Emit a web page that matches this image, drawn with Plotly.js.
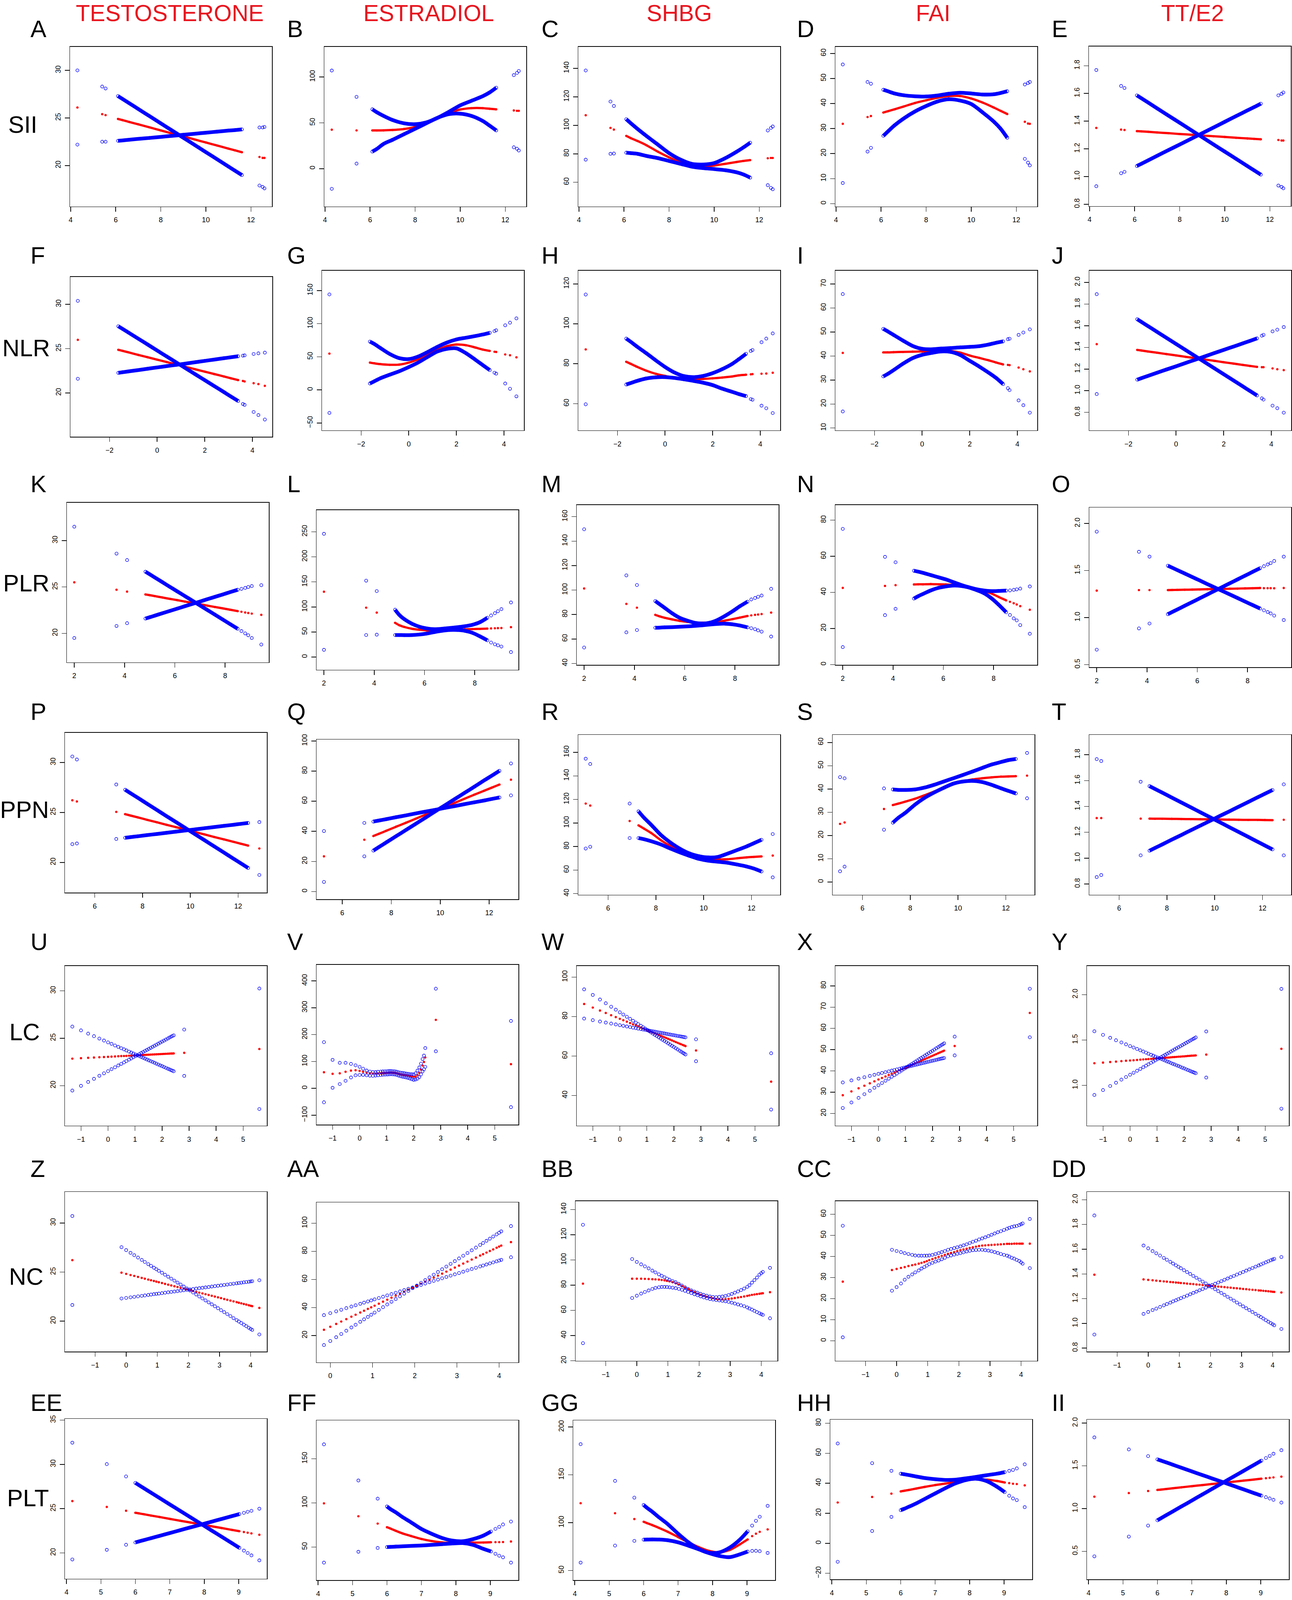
<!DOCTYPE html>
<html><head><meta charset="utf-8">
<script src="https://cdn.plot.ly/plotly-3.0.1.min.js"></script>
<style>html,body{margin:0;padding:0;background:#fff;overflow:hidden}#chart{width:100vw;height:100vh}</style>
</head><body><div id="chart"></div>
<script>
// ---------------- DATA ----------------
const colTitles = ['TESTOSTERONE', 'ESTRADIOL', 'SHBG', 'FAI', 'TT/E2'];
const rowTitles = ['SII', 'NLR', 'PLR', 'PPN', 'LC', 'NC', 'PLT'];
const panelLetters = ['A','B','C','D','E','F','G','H','I','J','K','L','M','N','O','P','Q','R','S','T','U','V','W','X','Y','Z','AA','BB','CC','DD','EE','FF','GG','HH','II'];

const x_SII = [4.3, 5.4, 5.55, 6.1, 6.3, 6.6, 7.0, 7.5, 8.0, 8.5, 9.0, 9.5, 10.0, 10.5, 11.0, 11.3, 11.6, 12.38, 12.52, 12.6];
const x_NLR = [-3.33, -1.63, -1.45, -1.2, -0.8, -0.4, 0, 0.4, 0.8, 1.2, 1.6, 2.0, 2.4, 2.8, 3.1, 3.4, 3.6, 3.67, 4.05, 4.25, 4.52];
const x_PLR = [2.0, 3.68, 4.1, 4.83, 5.0, 5.2, 5.5, 5.8, 6.1, 6.4, 6.7, 7.0, 7.3, 7.6, 7.9, 8.2, 8.5, 8.65, 8.8, 8.92, 9.06, 9.44];
const x_PPN = [5.06, 5.25, 6.9, 7.27, 7.5, 7.8, 8.2, 8.6, 9.0, 9.4, 9.8, 10.2, 10.6, 11.0, 11.4, 11.8, 12.1, 12.42, 12.89];
const x_LC = [-1.32, -1.0, -0.735, -0.52, -0.32, -0.15, 0.0, 0.13, 0.26, 0.38, 0.49, 0.59, 0.68, 0.78, 0.86, 0.94, 1.02, 1.09, 1.16, 1.23, 1.3, 1.37, 1.44, 1.51, 1.58, 1.65, 1.72, 1.79, 1.86, 1.93, 2.0, 2.07, 2.14, 2.21, 2.27, 2.33, 2.38, 2.43, 2.82, 5.6];
const x_NC = [-1.73, -0.15, 0.0, 0.14, 0.26, 0.38, 0.5, 0.6, 0.71, 0.8, 0.89, 0.97, 1.05, 1.15, 1.25, 1.35, 1.45, 1.55, 1.65, 1.75, 1.85, 1.95, 2.05, 2.15, 2.25, 2.35, 2.45, 2.55, 2.65, 2.75, 2.85, 2.95, 3.05, 3.15, 3.25, 3.35, 3.45, 3.55, 3.62, 3.7, 3.78, 3.86, 3.94, 4.0, 4.05, 4.28];
const x_PLT = [4.17, 5.17, 5.73, 6.0, 6.1, 6.25, 6.45, 6.7, 7.0, 7.3, 7.6, 7.9, 8.2, 8.5, 8.8, 9.02, 9.15, 9.26, 9.37, 9.6];

const A_ci1 = [30.0, 28.3, 28.1, 27.3, 27.0, 26.55, 25.94, 25.19, 24.43, 23.68, 22.92, 22.17, 21.41, 20.66, 19.9, 19.45, 19.0, 17.9, 17.75, 17.6];
const A_ci2 = [22.2, 22.5, 22.5, 22.6, 22.64, 22.71, 22.8, 22.9, 23.01, 23.12, 23.23, 23.34, 23.45, 23.56, 23.67, 23.73, 23.8, 24.0, 24.0, 24.05];
const A_fit = [26.1, 25.4, 25.3, 24.9, 24.77, 24.58, 24.33, 24.01, 23.69, 23.37, 23.06, 22.74, 22.42, 22.1, 21.78, 21.59, 21.4, 20.9, 20.8, 20.8];
const B_ci1 = [107, 78.3, null, 64.7, 61.5, 57.5, 53, 49.5, 48.5, 50.5, 55.5, 62, 69, 74, 79, 83, 88.3, 102, 104.4, 106.5];
const B_ci2 = [-22, 5.5, null, 18.6, 21.5, 27, 31.5, 37.5, 43.5, 49.5, 55.5, 59.5, 60, 57.5, 52, 47, 41.7, 23.3, 21.7, 19.8];
const B_fit = [42.5, 41.7, null, 41.7, 41.7, 41.8, 42.2, 43.2, 45.5, 50, 55.5, 61, 64.5, 66, 66, 65.3, 64.7, 63.5, 63.1, 63.1];
const C_ci1 = [138.5, 116.7, 113.6, 104.3, 101.5, 97.5, 92.5, 86.5, 80.5, 76, 73, 72.5, 73.5, 77, 81.5, 84.5, 87.8, 96.4, 98.2, 99.2];
const C_ci2 = [75.9, 80, 80.2, 80.8, 80.5, 80, 78.5, 77, 75, 73, 71, 70, 69.3, 68.5, 67, 65.5, 63.3, 58, 56.1, 55.1];
const C_fit = [107.1, 98.2, 97, 92.6, 91, 89, 86, 81.5, 77.5, 74, 72, 71.2, 71.8, 73, 74.3, 75, 75.6, 76.9, 77.1, 77.1];
const D_ci1 = [55.6, 48.6, 47.9, 45.5, 44.9, 44.0, 43.3, 42.9, 42.8, 43.2, 43.9, 44.3, 44.0, 43.6, 43.7, 44.2, 44.9, 47.6, 48.2, 48.6];
const D_ci2 = [8.25, 20.8, 22.3, 27.1, 28.8, 31.3, 34, 36.8, 39, 40.8, 41.7, 41.2, 39.8, 36.5, 32.8, 30, 26.3, 17.9, 16.4, 15.3];
const D_fit = [31.9, 34.6, 35.0, 36.4, 36.9, 37.7, 38.8, 40.2, 41.3, 42.3, 43, 43, 42, 40.4, 38.4, 37.1, 35.8, 32.7, 32, 31.9];
const E_ci1 = [1.769, 1.654, 1.639, 1.586, 1.565, 1.534, 1.492, 1.440, 1.388, 1.336, 1.284, 1.232, 1.180, 1.128, 1.076, 1.045, 1.014, 0.935, 0.925, 0.915];
const E_ci2 = [0.930, 1.024, 1.034, 1.076, 1.092, 1.117, 1.150, 1.191, 1.231, 1.272, 1.313, 1.354, 1.395, 1.436, 1.477, 1.501, 1.526, 1.586, 1.597, 1.607];
const E_fit = [1.351, 1.339, 1.336, 1.328, 1.326, 1.323, 1.318, 1.313, 1.307, 1.302, 1.296, 1.291, 1.286, 1.280, 1.275, 1.272, 1.269, 1.264, 1.260, 1.260];

const F_ci1 = [30.4, 27.53, 27.23, 26.81, 26.14, 25.47, 24.79, 24.12, 23.45, 22.78, 22.11, 21.44, 20.77, 20.1, 19.59, 19.09, 18.75, 18.65, 17.85, 17.5, 17.0];
const F_ci2 = [21.6, 22.27, 22.34, 22.43, 22.58, 22.73, 22.88, 23.03, 23.17, 23.32, 23.47, 23.62, 23.77, 23.92, 24.03, 24.14, 24.21, 24.24, 24.4, 24.47, 24.55];
const F_fit = [26.0, 24.87, 24.75, 24.58, 24.3, 24.03, 23.76, 23.49, 23.21, 22.94, 22.67, 22.4, 22.13, 21.86, 21.65, 21.45, 21.35, 21.3, 21.1, 21.0, 20.8];
const G_ci1 = [144.2, 73, 69.5, 63.5, 54.3, 48, 46.6, 50.5, 57.4, 65, 71.5, 76.2, 78.8, 81.4, 83.6, 86.2, 88.8, 90, 97.6, 101.5, 108];
const G_ci2 = [-34.7, 9.7, 13, 17.5, 23, 28.2, 34.5, 41.5, 50, 58, 62, 62.8, 55.5, 45.5, 37.7, 30, 26, 24.6, 9.7, 1.8, -9.7];
const G_fit = [54.9, 41.3, 40.2, 39, 38, 38.2, 41.2, 46.5, 53.5, 60.5, 66, 68.6, 67.5, 64, 61, 58.9, 57.6, 57.3, 53.6, 52.3, 49.2];
const H_ci1 = [114.7, 92.6, 91.1, 88.8, 85.4, 81.8, 78.4, 75.6, 73.8, 73.3, 73.9, 75.3, 77.3, 79.8, 82.3, 85, 86.4, 86.9, 90.8, 92.6, 95.2];
const H_ci2 = [59.7, 69.6, 70.3, 71.3, 72.6, 73.2, 73.3, 72.9, 72.2, 71.4, 70.5, 69.3, 67.5, 66, 64.8, 63.8, 62.3, 62, 59, 57.7, 55.3];
const H_fit = [87.2, 81, 80, 78.6, 76.6, 75, 73.9, 72.9, 72.4, 72.3, 72.4, 72.7, 73.1, 73.6, 74.2, 74.5, 74.7, 74.8, 75, 75.1, 75.5];
const I_ci1 = [65.8, 51.3, 50.3, 48.8, 46.4, 44.2, 43, 42.8, 43.1, 43.3, 43.6, 43.8, 44.1, 44.8, 45.5, 46.1, 47, 47.2, 48.8, 49.8, 51.1];
const I_ci2 = [16.9, 31.5, 32.5, 34.1, 36.8, 39.1, 40.5, 41.3, 41.9, 41.7, 40.4, 38, 35.6, 33, 30.9, 28.3, 26.6, 25.8, 21.5, 19.5, 16.4];
const I_fit = [41.3, 41.5, 41.5, 41.6, 41.7, 41.8, 41.9, 42, 42.1, 42.1, 41.4, 40.2, 39.2, 38.2, 37.3, 36.5, 36.3, 36.2, 35.2, 34.5, 33.6];
const J_ci1 = [1.892, 1.660, 1.635, 1.600, 1.544, 1.488, 1.432, 1.376, 1.320, 1.264, 1.208, 1.152, 1.096, 1.040, 0.998, 0.956, 0.929, 0.918, 0.862, 0.838, 0.797];
const J_ci2 = [0.969, 1.102, 1.116, 1.135, 1.166, 1.196, 1.225, 1.256, 1.286, 1.316, 1.347, 1.377, 1.407, 1.437, 1.460, 1.483, 1.508, 1.516, 1.548, 1.564, 1.588];
const J_fit = [1.430, 1.377, 1.371, 1.363, 1.351, 1.338, 1.326, 1.313, 1.301, 1.288, 1.276, 1.263, 1.251, 1.238, 1.229, 1.220, 1.217, 1.217, 1.206, 1.198, 1.190];

const K_ci1 = [31.5, 28.6, 27.9, 26.65, 26.37, 26.03, 25.53, 25.02, 24.52, 24.02, 23.52, 23.01, 22.51, 22.01, 21.5, 21.0, 20.5, 20.25, 20.0, 19.8, 19.5, 18.8];
const K_ci2 = [19.5, 20.8, 21.1, 21.6, 21.74, 21.91, 22.17, 22.42, 22.67, 22.93, 23.18, 23.43, 23.69, 23.94, 24.19, 24.45, 24.7, 24.8, 24.9, 25.0, 25.1, 25.2];
const K_fit = [25.5, 24.7, 24.5, 24.2, 24.12, 24.02, 23.87, 23.72, 23.58, 23.43, 23.28, 23.14, 22.99, 22.84, 22.7, 22.55, 22.4, 22.33, 22.25, 22.2, 22.13, 22.0];
const L_ci1 = [246, 152.5, 131.7, 94.5, 84, 75.5, 66.5, 60.5, 57, 55.7, 56.5, 58, 59.5, 61.5, 64.3, 69.5, 78.5, 83, 87.5, 91.5, 95.7, 109];
const L_ci2 = [14.5, 44, 44.7, 44, 44, 43.8, 44, 45, 47, 50, 52.5, 54, 54, 52.5, 48.5, 41.5, 33.5, 29, 25.5, 23.5, 21, 10];
const L_fit = [130.5, 98.6, 88.7, 68.4, 63.5, 60, 56.5, 54.5, 53.3, 52.8, 53.2, 54, 54.6, 55.2, 55.8, 56.3, 56.8, 57.2, 57.5, 57.8, 58, 59.7];
const M_ci1 = [149.7, 112, 104.1, 91, 88.5, 85.5, 81, 77.3, 75, 73.2, 72.6, 73.3, 75.5, 78.8, 82.6, 86.8, 90.5, 92.3, 93.5, 94.5, 95.5, 101];
const M_ci2 = [53, 65.4, 67.3, 69.2, 69.3, 69.5, 69.7, 70, 70.3, 70.7, 71.2, 71.8, 72.3, 72.5, 72, 71, 69.5, 68.8, 68, 67, 66, 62];
const M_fit = [101.3, 88.7, 85.6, 79.7, 78.5, 77.3, 76, 74.8, 74, 73.5, 73.3, 73.4, 74, 75, 76.2, 77.5, 78.8, 79.3, 79.7, 80, 80.4, 81.6];
const N_ci1 = [75.2, 59.7, 56.7, 52, 51.5, 50.8, 49.6, 48.4, 47.2, 45.7, 44.2, 42.9, 41.8, 41.1, 40.7, 40.8, 41, 41.1, 41.4, 41.7, 42.1, 43.3];
const N_ci2 = [9.7, 27.4, 30.9, 36.6, 37.9, 39.2, 41.1, 42.5, 43.3, 43.8, 43.6, 42.8, 41.4, 39.7, 36.9, 33.2, 29, 27.5, 25.6, 24.5, 21.9, 17.1];
const N_fit = [42.5, 43.6, 44, 44.4, 44.5, 44.5, 44.6, 44.5, 44.4, 44.2, 43.8, 43, 42, 40.9, 39.5, 37.5, 35.6, 34.8, 34, 33.3, 32.4, 30.4];
const O_ci1 = [1.914, 1.70, 1.648, 1.552, 1.531, 1.506, 1.469, 1.432, 1.395, 1.357, 1.320, 1.283, 1.246, 1.209, 1.171, 1.134, 1.097, 1.078, 1.060, 1.045, 1.022, 0.975];
const O_ci2 = [0.660, 0.886, 0.938, 1.037, 1.060, 1.086, 1.126, 1.166, 1.206, 1.246, 1.286, 1.326, 1.366, 1.406, 1.446, 1.486, 1.526, 1.546, 1.565, 1.580, 1.602, 1.648];
const O_fit = [1.287, 1.293, 1.293, 1.293, 1.294, 1.295, 1.297, 1.298, 1.300, 1.302, 1.304, 1.305, 1.307, 1.309, 1.311, 1.313, 1.315, 1.313, 1.313, 1.313, 1.312, 1.315];

const P_ci1 = [30.6, 30.3, 27.8, 27.27, 26.92, 26.47, 25.86, 25.25, 24.64, 24.04, 23.43, 22.82, 22.22, 21.61, 21.0, 20.39, 19.94, 19.45, 18.75];
const P_ci2 = [21.83, 21.9, 22.35, 22.47, 22.54, 22.62, 22.74, 22.85, 22.97, 23.08, 23.2, 23.31, 23.43, 23.54, 23.66, 23.77, 23.86, 23.95, 24.04];
const P_fit = [26.22, 26.1, 25.06, 24.83, 24.69, 24.51, 24.26, 24.02, 23.77, 23.53, 23.29, 23.04, 22.8, 22.55, 22.31, 22.07, 21.88, 21.69, 21.4];
const Q_ci1 = [null, 40.2, 45.6, 46.5, 47.2, 48.1, 49.4, 50.6, 51.9, 53.1, 54.3, 55.6, 56.8, 58.1, 59.3, 60.5, 61.5, 62.5, 63.9];
const Q_ci2 = [null, 6.4, 23.4, 27.2, 29.6, 32.7, 36.8, 40.9, 45.0, 49.1, 53.3, 57.4, 61.5, 65.6, 69.7, 73.9, 76.9, 80.2, 85.1];
const Q_fit = [null, 23.4, 34.4, 36.9, 38.4, 40.4, 43.1, 45.7, 48.4, 51.1, 53.7, 56.4, 59.0, 61.7, 64.4, 67.0, 69.0, 71.1, 74.3];
const R_ci1 = [154.6, 150.1, 116.5, 109.9, 104.5, 98.5, 90, 83.5, 78.2, 74.2, 71.8, 70.7, 71.2, 74, 77, 80.1, 82.8, 85.7, 90.6];
const R_ci2 = [78.3, 79.8, 87.2, 87.2, 86.2, 84.5, 81.8, 78.3, 75, 72.1, 69.5, 67.9, 67.1, 66.2, 64.7, 63, 61.3, 58.8, 53.8];
const R_fit = [116.5, 114.8, 101.7, 98, 95.2, 91.5, 85.5, 80.5, 76.5, 73.3, 71, 69.6, 69.1, 69.2, 70, 70.8, 71.2, 71.6, 72.3];
const S_ci1 = [45.1, 44.6, 40.25, 39.8, 39.6, 39.6, 39.8, 40.6, 41.8, 43.2, 44.6, 46.0, 47.5, 49.0, 50.5, 51.6, 52.4, 52.9, 55.5];
const S_ci2 = [4.6, 6.6, 22.5, 25.5, 27.6, 29.8, 33.3, 36.2, 38.5, 40.5, 42.3, 43.2, 43.5, 43.0, 41.8, 40.3, 39.2, 38.1, 36];
const S_fit = [25, 25.6, 31.4, 33.1, 33.7, 34.6, 35.8, 37.3, 38.9, 40.5, 42, 43.2, 44.1, 44.6, 45, 45.3, 45.4, 45.5, 45.75];
const T_ci1 = [1.766, 1.751, 1.591, 1.557, 1.535, 1.507, 1.469, 1.431, 1.393, 1.355, 1.317, 1.279, 1.241, 1.203, 1.165, 1.127, 1.098, 1.068, 1.022];
const T_ci2 = [0.854, 0.870, 1.022, 1.058, 1.079, 1.106, 1.143, 1.179, 1.216, 1.252, 1.288, 1.325, 1.361, 1.398, 1.434, 1.471, 1.498, 1.527, 1.571];
const T_fit = [1.310, 1.310, 1.306, 1.306, 1.305, 1.305, 1.304, 1.303, 1.302, 1.301, 1.300, 1.299, 1.298, 1.297, 1.296, 1.296, 1.295, 1.294, 1.297];

const U_ci1 = [26.23, 25.83, 25.49, 25.22, 24.97, 24.76, 24.57, 24.41, 24.24, 24.09, 23.95, 23.83, 23.72, 23.59, 23.49, 23.39, 23.29, 23.2, 23.11, 23.02, 22.94, 22.85, 22.76, 22.67, 22.58, 22.5, 22.41, 22.32, 22.23, 22.14, 22.06, 21.97, 21.88, 21.79, 21.72, 21.64, 21.58, 21.52, 21.03, 17.53];
const U_ci2 = [19.48, 19.98, 20.39, 20.72, 21.04, 21.3, 21.53, 21.74, 21.94, 22.13, 22.3, 22.45, 22.59, 22.75, 22.87, 23.0, 23.12, 23.23, 23.34, 23.45, 23.56, 23.67, 23.77, 23.88, 23.99, 24.1, 24.21, 24.32, 24.43, 24.54, 24.65, 24.75, 24.86, 24.97, 25.07, 25.16, 25.24, 25.31, 25.92, 30.25];
const U_fit = [22.85, 22.9, 22.94, 22.97, 23.0, 23.02, 23.04, 23.06, 23.08, 23.1, 23.12, 23.13, 23.14, 23.16, 23.17, 23.18, 23.19, 23.2, 23.21, 23.22, 23.24, 23.25, 23.26, 23.27, 23.28, 23.29, 23.3, 23.31, 23.32, 23.33, 23.34, 23.35, 23.36, 23.37, 23.38, 23.39, 23.39, 23.4, 23.46, 23.87];
const V_ci1 = [172, 106, 95, 95, 91, 85.8, 80, 73, 66.4, 62.5, 60.5, 60.5, 61.6, 62.5, 63, 63.5, 64, 64.5, 64.5, 64, 63.5, 62, 60, 58.5, 57.5, 56.5, 55, 54, 53, 52.5, 52, 56, 66, 78, 92, 109, 122, 150, 371, 251];
const V_ci2 = [-52, 2, 16, 28, 40.5, 48.4, 49.8, 50, 48.4, 47, 46.5, 47.4, 48.4, 49.5, 50.5, 51, 51.5, 52, 52.4, 52, 51.5, 50, 47.5, 45.3, 43.5, 42, 40.5, 38.8, 36.5, 34, 31.5, 33, 36, 42, 52, 63, 71, 80, 138, -70];
const V_fit = [60, 54, 56, 61.6, 66, 67.4, 65, 61.6, 58.5, 56, 55, 55, 55.5, 56, 56.5, 57, 57.5, 58, 58.5, 58, 57.5, 56, 54, 52, 50.5, 49.5, 48.5, 47.5, 46, 44.5, 43, 44, 50, 58, 70, 85, 98, 115, 255, 90];
const W_ci1 = [93.8, 90.98, 88.65, 86.76, 85.0, 83.5, 82.18, 81.04, 79.9, 78.84, 77.87, 76.99, 76.2, 75.32, 74.62, 73.91, 73.21, 72.59, 71.98, 71.36, 70.74, 70.13, 69.51, 68.9, 68.28, 67.66, 67.05, 66.43, 65.82, 65.2, 64.58, 63.97, 63.35, 62.74, 62.21, 61.68, 61.24, 60.8, 57.37, 32.9];
const W_ci2 = [79, 78.19, 77.51, 76.97, 76.46, 76.03, 75.65, 75.32, 74.99, 74.68, 74.4, 74.15, 73.92, 73.67, 73.46, 73.26, 73.06, 72.88, 72.7, 72.52, 72.35, 72.17, 71.99, 71.81, 71.63, 71.46, 71.28, 71.1, 70.92, 70.74, 70.57, 70.39, 70.21, 70.03, 69.88, 69.73, 69.6, 69.47, 68.48, 61.42];
const W_fit = [86.4, 84.58, 83.07, 81.85, 80.71, 79.74, 78.89, 78.15, 77.41, 76.73, 76.1, 75.53, 75.02, 74.45, 74.0, 73.54, 73.09, 72.69, 72.29, 71.89, 71.49, 71.09, 70.7, 70.3, 69.9, 69.5, 69.1, 68.7, 68.31, 67.91, 67.51, 67.11, 66.71, 66.31, 65.97, 65.63, 65.35, 65.06, 62.84, 47.03];
const X_ci1 = [34.6, 35.58, 36.4, 37.06, 37.67, 38.19, 38.65, 39.05, 39.45, 39.82, 40.16, 40.46, 40.74, 41.05, 41.29, 41.54, 41.78, 42.0, 42.21, 42.43, 42.64, 42.86, 43.07, 43.29, 43.5, 43.72, 43.93, 44.15, 44.36, 44.58, 44.79, 45.01, 45.22, 45.44, 45.62, 45.81, 45.96, 46.11, 47.31, 55.84];
const X_ci2 = [22.6, 25.19, 27.34, 29.08, 30.7, 32.08, 33.29, 34.35, 35.4, 36.37, 37.26, 38.07, 38.8, 39.61, 40.26, 40.91, 41.55, 42.12, 42.69, 43.26, 43.82, 44.39, 44.96, 45.52, 46.09, 46.66, 47.22, 47.79, 48.36, 48.93, 49.49, 50.06, 50.63, 51.19, 51.68, 52.17, 52.57, 52.98, 56.13, 78.65];
const X_fit = [28.6, 30.39, 31.87, 33.07, 34.19, 35.14, 35.98, 36.71, 37.43, 38.1, 38.72, 39.28, 39.78, 40.34, 40.79, 41.23, 41.68, 42.07, 42.46, 42.85, 43.25, 43.64, 44.03, 44.42, 44.81, 45.2, 45.59, 45.98, 46.38, 46.77, 47.16, 47.55, 47.94, 48.33, 48.67, 49.0, 49.28, 49.56, 51.74, 67.28];
const Y_ci1 = [1.596, 1.557, 1.524, 1.497, 1.473, 1.452, 1.433, 1.417, 1.401, 1.386, 1.373, 1.361, 1.349, 1.337, 1.327, 1.317, 1.307, 1.299, 1.290, 1.282, 1.273, 1.264, 1.256, 1.247, 1.238, 1.230, 1.221, 1.213, 1.204, 1.195, 1.187, 1.178, 1.169, 1.161, 1.153, 1.146, 1.140, 1.134, 1.086, 0.743];
const Y_ci2 = [0.894, 0.948, 0.993, 1.029, 1.063, 1.092, 1.117, 1.139, 1.161, 1.181, 1.200, 1.217, 1.232, 1.249, 1.262, 1.276, 1.289, 1.301, 1.313, 1.325, 1.337, 1.349, 1.360, 1.372, 1.384, 1.396, 1.408, 1.420, 1.431, 1.443, 1.455, 1.467, 1.479, 1.491, 1.501, 1.511, 1.519, 1.528, 1.594, 2.063];
const Y_fit = [1.244, 1.251, 1.257, 1.262, 1.267, 1.271, 1.274, 1.277, 1.280, 1.283, 1.286, 1.288, 1.290, 1.292, 1.294, 1.296, 1.298, 1.299, 1.301, 1.303, 1.304, 1.306, 1.307, 1.309, 1.311, 1.312, 1.314, 1.316, 1.317, 1.319, 1.320, 1.322, 1.324, 1.325, 1.327, 1.328, 1.329, 1.330, 1.339, 1.403];

const Z_ci1 = [30.71, 27.54, 27.24, 26.96, 26.72, 26.48, 26.24, 26.03, 25.81, 25.63, 25.45, 25.29, 25.13, 24.93, 24.73, 24.53, 24.33, 24.13, 23.93, 23.73, 23.53, 23.33, 23.12, 22.92, 22.72, 22.52, 22.32, 22.12, 21.92, 21.72, 21.52, 21.32, 21.12, 20.92, 20.72, 20.52, 20.31, 20.11, 19.97, 19.81, 19.65, 19.49, 19.33, 19.21, 19.11, 18.65];
const Z_ci2 = [21.65, 22.31, 22.37, 22.43, 22.48, 22.53, 22.58, 22.62, 22.67, 22.71, 22.75, 22.78, 22.81, 22.85, 22.9, 22.94, 22.98, 23.02, 23.06, 23.11, 23.15, 23.19, 23.23, 23.27, 23.32, 23.36, 23.4, 23.44, 23.48, 23.53, 23.57, 23.61, 23.65, 23.69, 23.73, 23.78, 23.82, 23.86, 23.89, 23.92, 23.96, 23.99, 24.02, 24.05, 24.07, 24.17];
const Z_fit = [26.22, 24.94, 24.82, 24.7, 24.61, 24.51, 24.41, 24.33, 24.24, 24.17, 24.1, 24.03, 23.97, 23.89, 23.8, 23.72, 23.64, 23.56, 23.48, 23.4, 23.32, 23.24, 23.16, 23.07, 22.99, 22.91, 22.83, 22.75, 22.67, 22.59, 22.51, 22.43, 22.35, 22.26, 22.18, 22.1, 22.02, 21.94, 21.88, 21.82, 21.75, 21.69, 21.62, 21.57, 21.53, 21.35];
const AA_ci1 = [null, 13.3, 16.19, 18.89, 21.2, 23.51, 25.83, 27.75, 29.87, 31.61, 33.34, 34.88, 36.42, 38.35, 40.28, 42.21, 44.13, 46.06, 47.99, 49.91, 51.84, 53.77, 55.69, 57.62, 59.55, 61.48, 63.4, 65.33, 67.26, 69.18, 71.11, 73.04, 74.96, 76.89, 78.82, 80.75, 82.67, 84.6, 85.95, 87.49, 89.03, 90.57, 92.11, 93.27, 94.23, 98.0];
const AA_ci2 = [null, 34.6, 36.01, 37.32, 38.44, 39.57, 40.69, 41.63, 42.66, 43.5, 44.34, 45.09, 45.84, 46.78, 47.72, 48.66, 49.59, 50.53, 51.47, 52.4, 53.34, 54.28, 55.21, 56.15, 57.09, 58.03, 58.96, 59.9, 60.84, 61.77, 62.71, 63.65, 64.58, 65.52, 66.46, 67.4, 68.33, 69.27, 69.92, 70.67, 71.42, 72.17, 72.92, 73.49, 73.95, 75.8];
const AA_fit = [null, 24.2, 26.34, 28.34, 30.05, 31.76, 33.48, 34.9, 36.47, 37.76, 39.04, 40.18, 41.32, 42.75, 44.18, 45.61, 47.03, 48.46, 49.89, 51.31, 52.74, 54.17, 55.59, 57.02, 58.45, 59.88, 61.3, 62.73, 64.16, 65.58, 67.01, 68.44, 69.86, 71.29, 72.72, 74.15, 75.57, 77.0, 78.0, 79.14, 80.28, 81.42, 82.56, 83.42, 84.13, 86.6];
const BB_ci1 = [127.9, 100.7, 98.4, 96.5, 94.9, 93.3, 91.5, 90.1, 88.6, 87.4, 86.3, 85.2, 84.3, 83.2, 82.3, 81, 79.7, 78.3, 77, 75.9, 74.9, 74, 73.1, 72.3, 71.6, 71, 70.6, 70.5, 70.7, 71, 71.5, 72.2, 73, 74, 75, 76.1, 77.3, 78.7, 80, 82, 84, 86, 88.3, 89.5, 90.5, 93.7];
const BB_ci2 = [34, 69.8, 71.6, 73.3, 74.6, 75.8, 77, 77.8, 78.3, 78.6, 78.6, 78.5, 78.3, 78, 77.6, 77, 76.3, 75.5, 74.6, 73.7, 72.8, 72, 71.1, 70.3, 69.6, 69, 68.6, 68.2, 67.9, 67.6, 67.2, 66.7, 66.1, 65.4, 64.7, 64, 63.3, 62.3, 61.5, 60.6, 59.6, 58.6, 57.7, 57, 56.4, 53.7];
const BB_fit = [81.2, 85.1, 85.1, 85.1, 85, 84.9, 84.7, 84.6, 84.4, 84.1, 83.8, 83.4, 83, 82.3, 81.5, 80.5, 79.3, 78.1, 76.9, 75.6, 74.4, 73.3, 72.3, 71.5, 70.8, 70.2, 69.6, 69.1, 68.9, 68.8, 68.9, 69.1, 69.4, 69.8, 70.2, 70.6, 71, 71.5, 71.9, 72.3, 72.6, 72.9, 73.2, 73.4, 73.6, 74.4];
const CC_ci1 = [54.6, 43.2, 42.6, 42.1, 41.6, 41.2, 40.8, 40.5, 40.4, 40.4, 40.4, 40.4, 40.5, 40.8, 41.2, 41.6, 42.1, 42.6, 43.2, 43.6, 44, 44.4, 44.8, 45.3, 45.8, 46.4, 47, 47.5, 48.1, 48.6, 49.1, 49.7, 50.3, 50.9, 51.5, 52, 52.6, 53.2, 53.6, 54, 54.3, 54.5, 54.9, 55.3, 55.7, 57.8];
const CC_ci2 = [1.7, 23.8, 25.5, 27.2, 29, 30.4, 31.5, 32.5, 33.4, 34.3, 35, 35.7, 36.4, 37, 37.6, 38.1, 38.7, 39.4, 40.1, 40.5, 40.9, 41.3, 41.6, 42, 42.4, 42.7, 43, 43.1, 43.2, 43.2, 43, 42.8, 42.5, 42.1, 41.7, 41.2, 40.8, 40.4, 40, 39.4, 39, 38.4, 37.9, 37.2, 36.6, 34.5];
const CC_fit = [28.1, 33.6, 34.1, 34.6, 35, 35.5, 35.9, 36.2, 36.6, 37, 37.4, 37.8, 38.3, 38.8, 39.3, 39.8, 40.3, 40.8, 41.3, 41.7, 42.1, 42.6, 43, 43.4, 43.7, 44.1, 44.4, 44.7, 45, 45.2, 45.3, 45.4, 45.5, 45.6, 45.7, 45.8, 45.9, 46, 46, 46, 46.1, 46.1, 46.1, 46.1, 46.1, 46.1];
const DD_ci1 = [1.873, 1.630, 1.607, 1.585, 1.567, 1.549, 1.530, 1.515, 1.498, 1.484, 1.470, 1.458, 1.446, 1.430, 1.415, 1.400, 1.384, 1.369, 1.354, 1.338, 1.323, 1.307, 1.292, 1.277, 1.261, 1.246, 1.231, 1.215, 1.200, 1.185, 1.169, 1.154, 1.138, 1.123, 1.108, 1.092, 1.077, 1.062, 1.051, 1.039, 1.026, 1.014, 1.002, 0.993, 0.985, 0.955];
const DD_ci2 = [0.910, 1.077, 1.093, 1.108, 1.120, 1.133, 1.146, 1.157, 1.168, 1.178, 1.187, 1.196, 1.204, 1.215, 1.225, 1.236, 1.247, 1.257, 1.268, 1.278, 1.289, 1.300, 1.310, 1.321, 1.331, 1.342, 1.353, 1.363, 1.374, 1.384, 1.395, 1.406, 1.416, 1.427, 1.437, 1.448, 1.459, 1.469, 1.477, 1.485, 1.494, 1.502, 1.511, 1.517, 1.522, 1.537];
const DD_fit = [1.394, 1.356, 1.352, 1.349, 1.346, 1.343, 1.340, 1.338, 1.335, 1.333, 1.331, 1.329, 1.327, 1.325, 1.322, 1.320, 1.318, 1.315, 1.313, 1.310, 1.308, 1.306, 1.303, 1.301, 1.298, 1.296, 1.294, 1.291, 1.289, 1.286, 1.284, 1.282, 1.279, 1.277, 1.274, 1.272, 1.270, 1.267, 1.266, 1.264, 1.262, 1.260, 1.258, 1.256, 1.255, 1.250];

const EE_ci1 = [32.45, 30.03, 28.64, 27.91, 27.67, 27.3, 26.82, 26.21, 25.48, 24.76, 24.03, 23.3, 22.57, 21.85, 21.12, 20.58, 20.27, 20.0, 19.73, 19.17];
const EE_ci2 = [19.27, 20.36, 20.93, 21.19, 21.3, 21.46, 21.67, 21.93, 22.25, 22.57, 22.89, 23.2, 23.52, 23.84, 24.16, 24.39, 24.53, 24.65, 24.76, 25.0];
const EE_fit = [25.86, 25.2, 24.77, 24.54, 24.47, 24.37, 24.23, 24.06, 23.85, 23.64, 23.44, 23.23, 23.02, 22.82, 22.61, 22.46, 22.37, 22.29, 22.21, 22.06];
const FF_ci1 = [166.3, 125.4, 104.8, 96, 93, 89.5, 84, 78, 70.5, 65, 60.3, 57.3, 56.6, 59, 63, 67.6, 70.6, 72.9, 75.6, 78.9];
const FF_ci2 = [32.4, 44.7, 49, 50, 50.2, 50.5, 50.9, 51.3, 51.8, 52.5, 53.3, 54.1, 54.5, 52.5, 48, 45, 42.4, 40.2, 38.4, 32.4];
const FF_fit = [99.5, 84.9, 76.6, 72.5, 71, 68.5, 65.5, 62.5, 59.2, 56.8, 55.3, 54.7, 54.7, 55, 55.2, 55.5, 55.6, 55.6, 55.7, 56.3];
const GG_ci1 = [182.1, 143.7, 126.2, 118.5, 115.5, 111.5, 105.5, 98.5, 88.5, 79.5, 72.5, 68.5, 69, 74, 82.5, 91, 97, 102, 106.2, 117.6];
const GG_ci2 = [58.3, 76.1, 81, 82.3, 82.4, 82.5, 82.4, 81.7, 79.5, 76, 72.2, 68.2, 65.2, 64, 67, 69.8, 70.5, 70.6, 70.2, 68.4];
const GG_fit = [120.4, 109.9, 103.8, 101, 99.5, 97.5, 94.5, 90.5, 85, 79.5, 74.5, 70.5, 69, 71.5, 77.5, 82.5, 86, 88.5, 90.5, 93];
const HH_ci1 = [66.5, 53.4, 48.3, 46.4, 46, 45.4, 44.5, 43.5, 42.7, 42.2, 42.4, 43.3, 44.3, 45.4, 46.4, 47.4, 48.3, 48.9, 49.9, 52.6];
const HH_ci2 = [-12.3, 8.2, 17.6, 22.1, 23, 24.5, 26.6, 29.6, 33.2, 36.8, 40, 42.2, 43, 41.4, 37.6, 34.1, 31.7, 29.9, 28.8, 24.1];
const HH_fit = [27.2, 30.9, 33.1, 34.6, 35, 35.6, 36.5, 37.6, 38.8, 39.8, 40.9, 42, 42.7, 42.4, 41.5, 40.5, 40.1, 39.7, 39.5, 38.6];
const II_ci1 = [1.833, 1.692, 1.614, 1.576, 1.562, 1.541, 1.513, 1.477, 1.435, 1.393, 1.351, 1.309, 1.267, 1.225, 1.182, 1.152, 1.133, 1.118, 1.102, 1.070];
const II_ci2 = [0.441, 0.672, 0.801, 0.863, 0.886, 0.921, 0.967, 1.025, 1.094, 1.164, 1.233, 1.302, 1.372, 1.441, 1.510, 1.561, 1.591, 1.616, 1.642, 1.683];
const II_fit = [1.139, 1.182, 1.206, 1.218, 1.222, 1.229, 1.238, 1.249, 1.262, 1.275, 1.288, 1.301, 1.314, 1.327, 1.340, 1.350, 1.355, 1.360, 1.365, 1.374];

// ---------------- ASSEMBLY ----------------
const rowX = [x_SII, x_NLR, x_PLR, x_PPN, x_LC, x_NC, x_PLT];
const seriesByPanel = [
  [A_ci1,A_ci2,A_fit],[B_ci1,B_ci2,B_fit],[C_ci1,C_ci2,C_fit],[D_ci1,D_ci2,D_fit],[E_ci1,E_ci2,E_fit],
  [F_ci1,F_ci2,F_fit],[G_ci1,G_ci2,G_fit],[H_ci1,H_ci2,H_fit],[I_ci1,I_ci2,I_fit],[J_ci1,J_ci2,J_fit],
  [K_ci1,K_ci2,K_fit],[L_ci1,L_ci2,L_fit],[M_ci1,M_ci2,M_fit],[N_ci1,N_ci2,N_fit],[O_ci1,O_ci2,O_fit],
  [P_ci1,P_ci2,P_fit],[Q_ci1,Q_ci2,Q_fit],[R_ci1,R_ci2,R_fit],[S_ci1,S_ci2,S_fit],[T_ci1,T_ci2,T_fit],
  [U_ci1,U_ci2,U_fit],[V_ci1,V_ci2,V_fit],[W_ci1,W_ci2,W_fit],[X_ci1,X_ci2,X_fit],[Y_ci1,Y_ci2,Y_fit],
  [Z_ci1,Z_ci2,Z_fit],[AA_ci1,AA_ci2,AA_fit],[BB_ci1,BB_ci2,BB_fit],[CC_ci1,CC_ci2,CC_fit],[DD_ci1,DD_ci2,DD_fit],
  [EE_ci1,EE_ci2,EE_fit],[FF_ci1,FF_ci2,FF_fit],[GG_ci1,GG_ci2,GG_fit],[HH_ci1,HH_ci2,HH_fit],[II_ci1,II_ci2,II_fit]
];

// ---------------- LAYOUT CONFIG (reference pixel grid 3307 x 4524, scaled to the window) ----------------
const REF_W = 3307, REF_H = 4524, PW = 517, PH = 452;
const VW = window.innerWidth || REF_W, VH = window.innerHeight || REF_H;
const sx = VW / REF_W, sy = VH / REF_H, sf = (sx + sy) / 2;
const denseRange = [[3,16],[1,15],[3,16],[3,17],null,null,[3,15]];
const rowDx = [2,2,2,2,1,1,1];
const frames = [
  [179,132],[830,132],[1480,132],[2138,132],[2787,131],
  [180,783],[824,765],[1480,765],[2138,765],[2788,765],
  [171,1421],[810,1442],[1476,1428],[2138,1428],[2788,1435],
  [166,2072],[810,2091],[1480,2078],[2131,2078],[2788,2078],
  [166,2731],[810,2728],[1476,2731],[2138,2731],[2782,2731],
  [166,3370],[810,3400],[1473,3396],[2138,3396],[2782,3370],
  [166,4012],[810,4016],[1467,4016],[2125,4014],[2782,4014]
];
const yRanges = [
  [15.69,32.49],[-41.3,133],[43,155.2],[-1.15,62.7],[0.786,1.94],
  [15.05,33.1],[-61.1,180.2],[46.6,126.7],[9.0,75.6],[0.633,2.11],
  [16.87,34.1],[-25.5,293.5],[38.8,169.5],[-0.16,88.4],[0.472,2.17],
  [16.98,32.97],[-5.2,101],[39,174.8],[-5.5,63.25],[0.717,1.953],
  [15.77,32.64],[-135.3,460],[24.7,105.7],[14.26,89.4],[0.555,2.317],
  [16.89,33.17],[1.0,114.8],[19.9,146.7],[-9.5,66.3],[0.771,2.064],
  [17.09,35.13],[12.5,193.5],[39.9,207],[-24.1,82.4],[0.17,2.041]
];
const yDticks = [5,50,20,10,0.2, 5,50,20,10,0.2, 5,50,20,20,0.5, 5,20,20,10,0.2, 5,100,20,10,0.5, 5,20,20,10,0.2, 5,50,50,20,0.5];
const letterX = [76, 733, 1384, 2038, 2690];
const letterY = [82, 722, 1368, 2012, 2663, 3305, 3966];
const rowLabelPos = [[59,352],[67,984],[67,1649],[62,2290],[63,2918],[67,3609],[71,4236]];
const colTitleX = [434, 1097, 1738, 2388, 3052];

const FONT = '"Liberation Sans", Arial, Helvetica, sans-serif';
const BLUE = '#0000FF', RED = '#FF0000';

const traces = [];
const layout = {
  width: VW, height: VH, margin: {l:0, r:0, t:0, b:0},
  paper_bgcolor: '#fff', plot_bgcolor: '#fff', showlegend: false,
  annotations: []
};

seriesByPanel.forEach((ser, i) => {
  const row = Math.floor(i / 5);
  const k = i + 1;
  const xa = 'x' + (k === 1 ? '' : k), ya = 'y' + (k === 1 ? '' : k);
  const xs = rowX[row];
  const [c1, c2, fit] = ser;
  const dr = denseRange[row];

  const addSeries = (ys, isFit) => {
    if (dr) {
      traces.push({x: xs.slice(dr[0], dr[1] + 1), y: ys.slice(dr[0], dr[1] + 1), xaxis: xa, yaxis: ya,
        type: 'scatter', mode: 'lines',
        line: {color: isFit ? RED : BLUE, width: (isFit ? 6 : 10) * sf, shape: 'spline', smoothing: 0.8},
        hoverinfo: 'skip'});
    }
    traces.push({x: xs, y: ys, xaxis: xa, yaxis: ya, type: 'scatter', mode: 'markers',
      marker: isFit ? {color: RED, size: 6.2 * sf, symbol: 'circle', line: {width: 0}}
                    : {color: BLUE, size: 8 * sf, symbol: 'circle-open', line: {width: 1.4, color: BLUE}},
      hoverinfo: 'skip'});
  };
  addSeries(fit, true);
  addSeries(c1, false);
  addSeries(c2, false);

  // x range: extent of the non-missing points plus 4 % on each side
  const xv = xs.filter((v, j) => c1[j] !== null);
  const xmin = Math.min(...xv), xmax = Math.max(...xv), pad = 0.04 * (xmax - xmin);
  const [l, t] = frames[i];
  const common = {
    showline: true, mirror: true, linecolor: '#000', linewidth: 1.5,
    ticks: 'outside', ticklen: 12 * sf, tickwidth: 1.5, tickcolor: '#000',
    showgrid: false, zeroline: false, tick0: 0,
    tickfont: {family: FONT, size: 19 * sf, color: '#000'}
  };
  layout['xaxis' + (k === 1 ? '' : k)] = Object.assign({}, common, {
    domain: [l / REF_W, (l + PW) / REF_W], range: [xmin - pad, xmax + pad], anchor: ya,
    dtick: rowDx[row], ticklabelstandoff: Math.round(7 * sy)
  });
  const dy = yDticks[i];
  layout['yaxis' + (k === 1 ? '' : k)] = Object.assign({}, common, {
    domain: [1 - (t + PH) / REF_H, 1 - t / REF_H], range: yRanges[i], anchor: xa,
    dtick: dy, tickangle: -90, tickformat: dy < 1 ? '.1f' : '', ticklabelstandoff: 4
  });

  layout.annotations.push({text: panelLetters[i], xref: 'paper', yref: 'paper',
    x: letterX[i % 5] / REF_W, y: 1 - letterY[row] / REF_H, xanchor: 'left', yanchor: 'middle',
    showarrow: false, font: {family: FONT, size: 64 * sf, color: '#000'}});
});

colTitles.forEach((txt, c) => {
  layout.annotations.push({text: txt, xref: 'paper', yref: 'paper',
    x: colTitleX[c] / REF_W, y: 1, xanchor: 'center', yanchor: 'top', borderpad: 0,
    showarrow: false, font: {family: FONT, size: 62 * sf, color: '#E8141E'}});
});
rowTitles.forEach((txt, r) => {
  layout.annotations.push({text: txt, xref: 'paper', yref: 'paper',
    x: rowLabelPos[r][0] / REF_W, y: 1 - rowLabelPos[r][1] / REF_H, xanchor: 'center', yanchor: 'middle',
    showarrow: false, font: {family: FONT, size: 64 * sf, color: '#000'}});
});

Plotly.newPlot('chart', traces, layout, {staticPlot: true, displayModeBar: false});
</script></body></html>
